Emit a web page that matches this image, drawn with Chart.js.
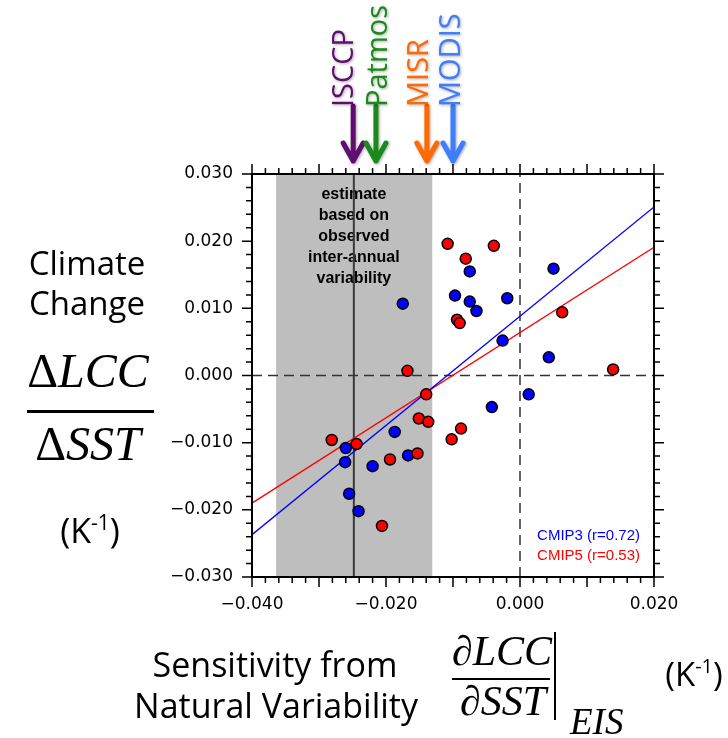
<!DOCTYPE html>
<html>
<head>
<meta charset="utf-8">
<script src="https://cdn.jsdelivr.net/npm/chart.js@4.4.0/dist/chart.umd.min.js"></script>
<style>
body{margin:0;background:#fff;}
#wrap{width:728px;height:738px;}
</style>
</head>
<body>
<div id="wrap"><canvas id="myChart" width="728" height="738"></canvas></div>
<script>
//model points (x = natural variability sensitivity, y = climate change)
const cmip3X = [-0.0175, 0.0050, -0.0075, -0.0097, -0.0075, -0.0065, -0.0019, -0.0026, 0.0043, -0.0042, 0.0013, -0.0187, -0.0260, -0.0261, -0.0220, -0.0167, -0.0255, -0.0241];
const cmip3Y = [0.0107, 0.0159, 0.0155, 0.0119, 0.0110, 0.0096, 0.0115, 0.0052, 0.0027, -0.0047, -0.0028, -0.0084, -0.0108, -0.0129, -0.0135, -0.0119, -0.0176, -0.0202];
const cmip5X = [-0.0168, -0.0108, -0.0039, -0.0081, -0.0094, -0.0090, 0.0063, 0.0139, -0.0140, -0.0151, -0.0137, -0.0088, -0.0102, -0.0281, -0.0244, -0.0194, -0.0153, -0.0206];
const cmip5Y = [0.0007, 0.0196, 0.0193, 0.0174, 0.0083, 0.0078, 0.0094, 0.0009, -0.0028, -0.0064, -0.0069, -0.0079, -0.0095, -0.0096, -0.0102, -0.0125, -0.0116, -0.0224];

//regression lines (ends at the axis limits)
const fitX = [-0.04, 0.02];
const cmip3Fit = [-0.0237, 0.0251];
const cmip5Fit = [-0.0190, 0.0191];

//observed estimate range + best estimate
const obsRange = [-0.0364, -0.0131];
const obsCentre = -0.0248;
const obsNames = ["ISCCP", "Patmos", "MISR", "MODIS"];
const obsValues = [-0.0249, -0.0215, -0.0139, -0.0100];
const obsColors = ["#5f0d6e", "#1a8a1a", "#ff6a00", "#3f7dff"];

//axis ticks
const xTickValues = [-0.04, -0.02, 0, 0.02];
const xTickLabels = ["\u22120.040", "\u22120.020", "0.000", "0.020"];
const yTickValues = [0.03, 0.02, 0.01, 0, -0.01, -0.02, -0.03];
const yTickLabels = ["0.030", "0.020", "0.010", "0.000", "\u22120.010", "\u22120.020", "\u22120.030"];

const legendTexts = ["CMIP3 (r=0.72)", "CMIP5 (r=0.53)"];
const noteLines = ["estimate", "based on", "observed", "inter-annual", "variability"];

const toPts = (xs, ys) => xs.map((x, i) => ({x: x, y: ys[i]}));

//draw "(K-1)" with superscript, x = centre
function drawUnit(ctx, x, y, size) {
  const big = size + "px 'Open Sans'", small = Math.round(size * 0.62) + "px 'Open Sans'";
  ctx.textAlign = "left";
  ctx.font = big;
  const w1 = ctx.measureText("(K").width, w3 = ctx.measureText(")").width;
  ctx.font = small;
  const w2 = ctx.measureText("-1").width;
  let px = x - (w1 + w2 + w3) / 2;
  ctx.font = big;
  ctx.fillText("(K", px, y);
  ctx.font = small;
  ctx.fillText("-1", px + w1, y - size * 0.38);
  ctx.font = big;
  ctx.fillText(")", px + w1 + w2, y);
}

//upright delta/partial + italic letters, centred on x
function drawMath(ctx, sym, txt, x, y, size) {
  const up = size + "px 'Liberation Serif'", it = "italic " + size + "px 'Liberation Serif'";
  ctx.textAlign = "left";
  ctx.font = up;
  const w1 = ctx.measureText(sym).width;
  ctx.font = it;
  const w2 = ctx.measureText(txt).width;
  const px = x - (w1 + w2) / 2;
  ctx.font = up;
  ctx.fillText(sym, px, y);
  ctx.font = it;
  ctx.fillText(txt, px + w1, y);
}

const decorPlugin = {
  id: "decor",
  beforeDatasetsDraw(chart) {
    const ctx = chart.ctx, xs = chart.scales.x, a = chart.chartArea;
    ctx.save();
    ctx.fillStyle = "#bebebe";
    const l = xs.getPixelForValue(obsRange[0]), r = xs.getPixelForValue(obsRange[1]);
    ctx.fillRect(l, a.top, r - l, a.bottom - a.top);
    //note text in the grey box
    ctx.fillStyle = "#000";
    ctx.font = "bold 16px 'Liberation Sans'";
    ctx.textAlign = "center";
    ctx.textBaseline = "middle";
    const cx = xs.getPixelForValue(obsCentre);
    noteLines.forEach((t, i) => ctx.fillText(t, cx, 195 + i * 21));
    ctx.restore();
  },
  afterDraw(chart) {
    const ctx = chart.ctx, xs = chart.scales.x, ys = chart.scales.y, a = chart.chartArea;
    ctx.save();
    //frame
    ctx.strokeStyle = "#000";
    ctx.lineWidth = 2;
    ctx.strokeRect(a.left, a.top, a.right - a.left, a.bottom - a.top);

    //ticks every 0.002, longer every 0.01
    ctx.lineWidth = 1.5;
    ctx.beginPath();
    for (let k = -20; k <= 10; k++) {
      const px = xs.getPixelForValue(k * 0.002);
      const len = (k % 5 === 0) ? 10 : 6;
      ctx.moveTo(px, a.bottom); ctx.lineTo(px, a.bottom + len);
      ctx.moveTo(px, a.top); ctx.lineTo(px, a.top - len);
    }
    for (let k = -15; k <= 15; k++) {
      const py = ys.getPixelForValue(k * 0.002);
      const len = (k % 5 === 0) ? 10 : 6;
      ctx.moveTo(a.left, py); ctx.lineTo(a.left - len, py);
      ctx.moveTo(a.right, py); ctx.lineTo(a.right + len, py);
    }
    ctx.stroke();

    //tick labels
    ctx.fillStyle = "#000";
    ctx.font = "17px 'DejaVu Sans'";
    ctx.textBaseline = "middle";
    ctx.textAlign = "center";
    xTickValues.forEach((v, i) => ctx.fillText(xTickLabels[i], xs.getPixelForValue(v), a.bottom + 28));
    ctx.textAlign = "right";
    yTickValues.forEach((v, i) => ctx.fillText(yTickLabels[i], a.left - 19, ys.getPixelForValue(v)));

    //legend text
    ctx.font = "15px 'Liberation Sans'";
    ctx.fillStyle = "#0000ff";
    ctx.fillText(legendTexts[0], 640, 536);
    ctx.fillStyle = "#ff0000";
    ctx.fillText(legendTexts[1], 640, 556);

    //observation arrows on top
    const labelShift = [0, 11, 1, 7];
    ctx.shadowColor = "rgba(0,0,0,0.35)";
    ctx.shadowBlur = 3;
    ctx.shadowOffsetX = 1;
    ctx.shadowOffsetY = 1;
    obsNames.forEach((name, i) => {
      const ax = xs.getPixelForValue(obsValues[i]);
      ctx.strokeStyle = obsColors[i];
      ctx.fillStyle = obsColors[i];
      ctx.lineWidth = 5;
      ctx.lineCap = "round";
      ctx.lineJoin = "round";
      ctx.beginPath();
      ctx.moveTo(ax, 106); ctx.lineTo(ax, 161);
      ctx.moveTo(ax - 10, 143); ctx.lineTo(ax, 161); ctx.lineTo(ax + 10, 143);
      ctx.stroke();
      ctx.save();
      ctx.translate(ax + labelShift[i], 107);
      ctx.rotate(-Math.PI / 2);
      ctx.font = "29px 'Open Sans'";
      ctx.textAlign = "left";
      ctx.textBaseline = "alphabetic";
      ctx.fillText(name, 0, 0);
      ctx.restore();
    });
    ctx.shadowColor = "transparent";
    ctx.shadowBlur = 0;
    ctx.shadowOffsetX = 0;
    ctx.shadowOffsetY = 0;

    //left axis title
    ctx.fillStyle = "#000";
    ctx.textBaseline = "alphabetic";
    ctx.textAlign = "center";
    ctx.font = "33px 'Open Sans'";
    ctx.fillText("Climate", 87, 275);
    ctx.fillText("Change", 87, 315);
    drawMath(ctx, "\u0394", "LCC", 88, 387, 48);
    drawMath(ctx, "\u0394", "SST", 88, 460, 48);
    ctx.fillRect(27, 410, 127, 3);
    drawUnit(ctx, 90, 543, 34);

    //bottom axis title
    ctx.font = "34px 'Open Sans'";
    ctx.textAlign = "center";
    ctx.fillText("Sensitivity from", 275, 677);
    ctx.fillText("Natural Variability", 276, 718);
    ctx.font = "italic 42px 'Liberation Serif'";
    ctx.fillText("\u2202LCC", 502, 665);
    ctx.fillText("\u2202SST", 503, 715);
    ctx.fillRect(452, 678, 98, 2);
    ctx.fillRect(554, 632, 2, 88);
    ctx.textAlign = "left";
    ctx.font = "italic 37px 'Liberation Serif'";
    ctx.fillText("EIS", 570, 734);
    drawUnit(ctx, 694, 686, 33);
    ctx.restore();
  }
};

const myChart = new Chart("myChart", {
  type: "scatter",
  data: {
    datasets: [
      {label: "CMIP5", data: toPts(cmip5X, cmip5Y), backgroundColor: "#ff0000", borderColor: "#000", borderWidth: 1.5, pointRadius: 5.5, order: 1},
      {label: "CMIP3", data: toPts(cmip3X, cmip3Y), backgroundColor: "#0000ff", borderColor: "#000", borderWidth: 1.5, pointRadius: 5.5, order: 2},
      {type: "line", label: "CMIP3 fit", data: toPts(fitX, cmip3Fit), borderColor: "#0000ff", borderWidth: 1.3, pointRadius: 0, order: 3},
      {type: "line", label: "CMIP5 fit", data: toPts(fitX, cmip5Fit), borderColor: "#ff0000", borderWidth: 1.3, pointRadius: 0, order: 3},
      {type: "line", label: "best estimate", data: [{x: obsCentre, y: -0.03}, {x: obsCentre, y: 0.03}], borderColor: "#3a3a3a", borderWidth: 2, pointRadius: 0, order: 4},
      {type: "line", label: "x zero", data: [{x: 0, y: -0.03}, {x: 0, y: 0.03}], borderColor: "#333", borderWidth: 1.5, borderDash: [10, 6], pointRadius: 0, order: 5},
      {type: "line", label: "y zero", data: [{x: -0.04, y: 0}, {x: 0.02, y: 0}], borderColor: "#333", borderWidth: 1.5, borderDash: [10, 6], pointRadius: 0, order: 5}
    ]
  },
  options: {
    responsive: false,
    animation: false,
    devicePixelRatio: 1,
    layout: {padding: {left: 252, top: 174, right: 74, bottom: 161}},
    scales: {
      x: {type: "linear", min: -0.04, max: 0.02, display: false},
      y: {type: "linear", min: -0.03, max: 0.03, display: false}
    },
    plugins: {legend: {display: false}, tooltip: {enabled: false}}
  },
  plugins: [decorPlugin]
});
</script>
</body>
</html>
